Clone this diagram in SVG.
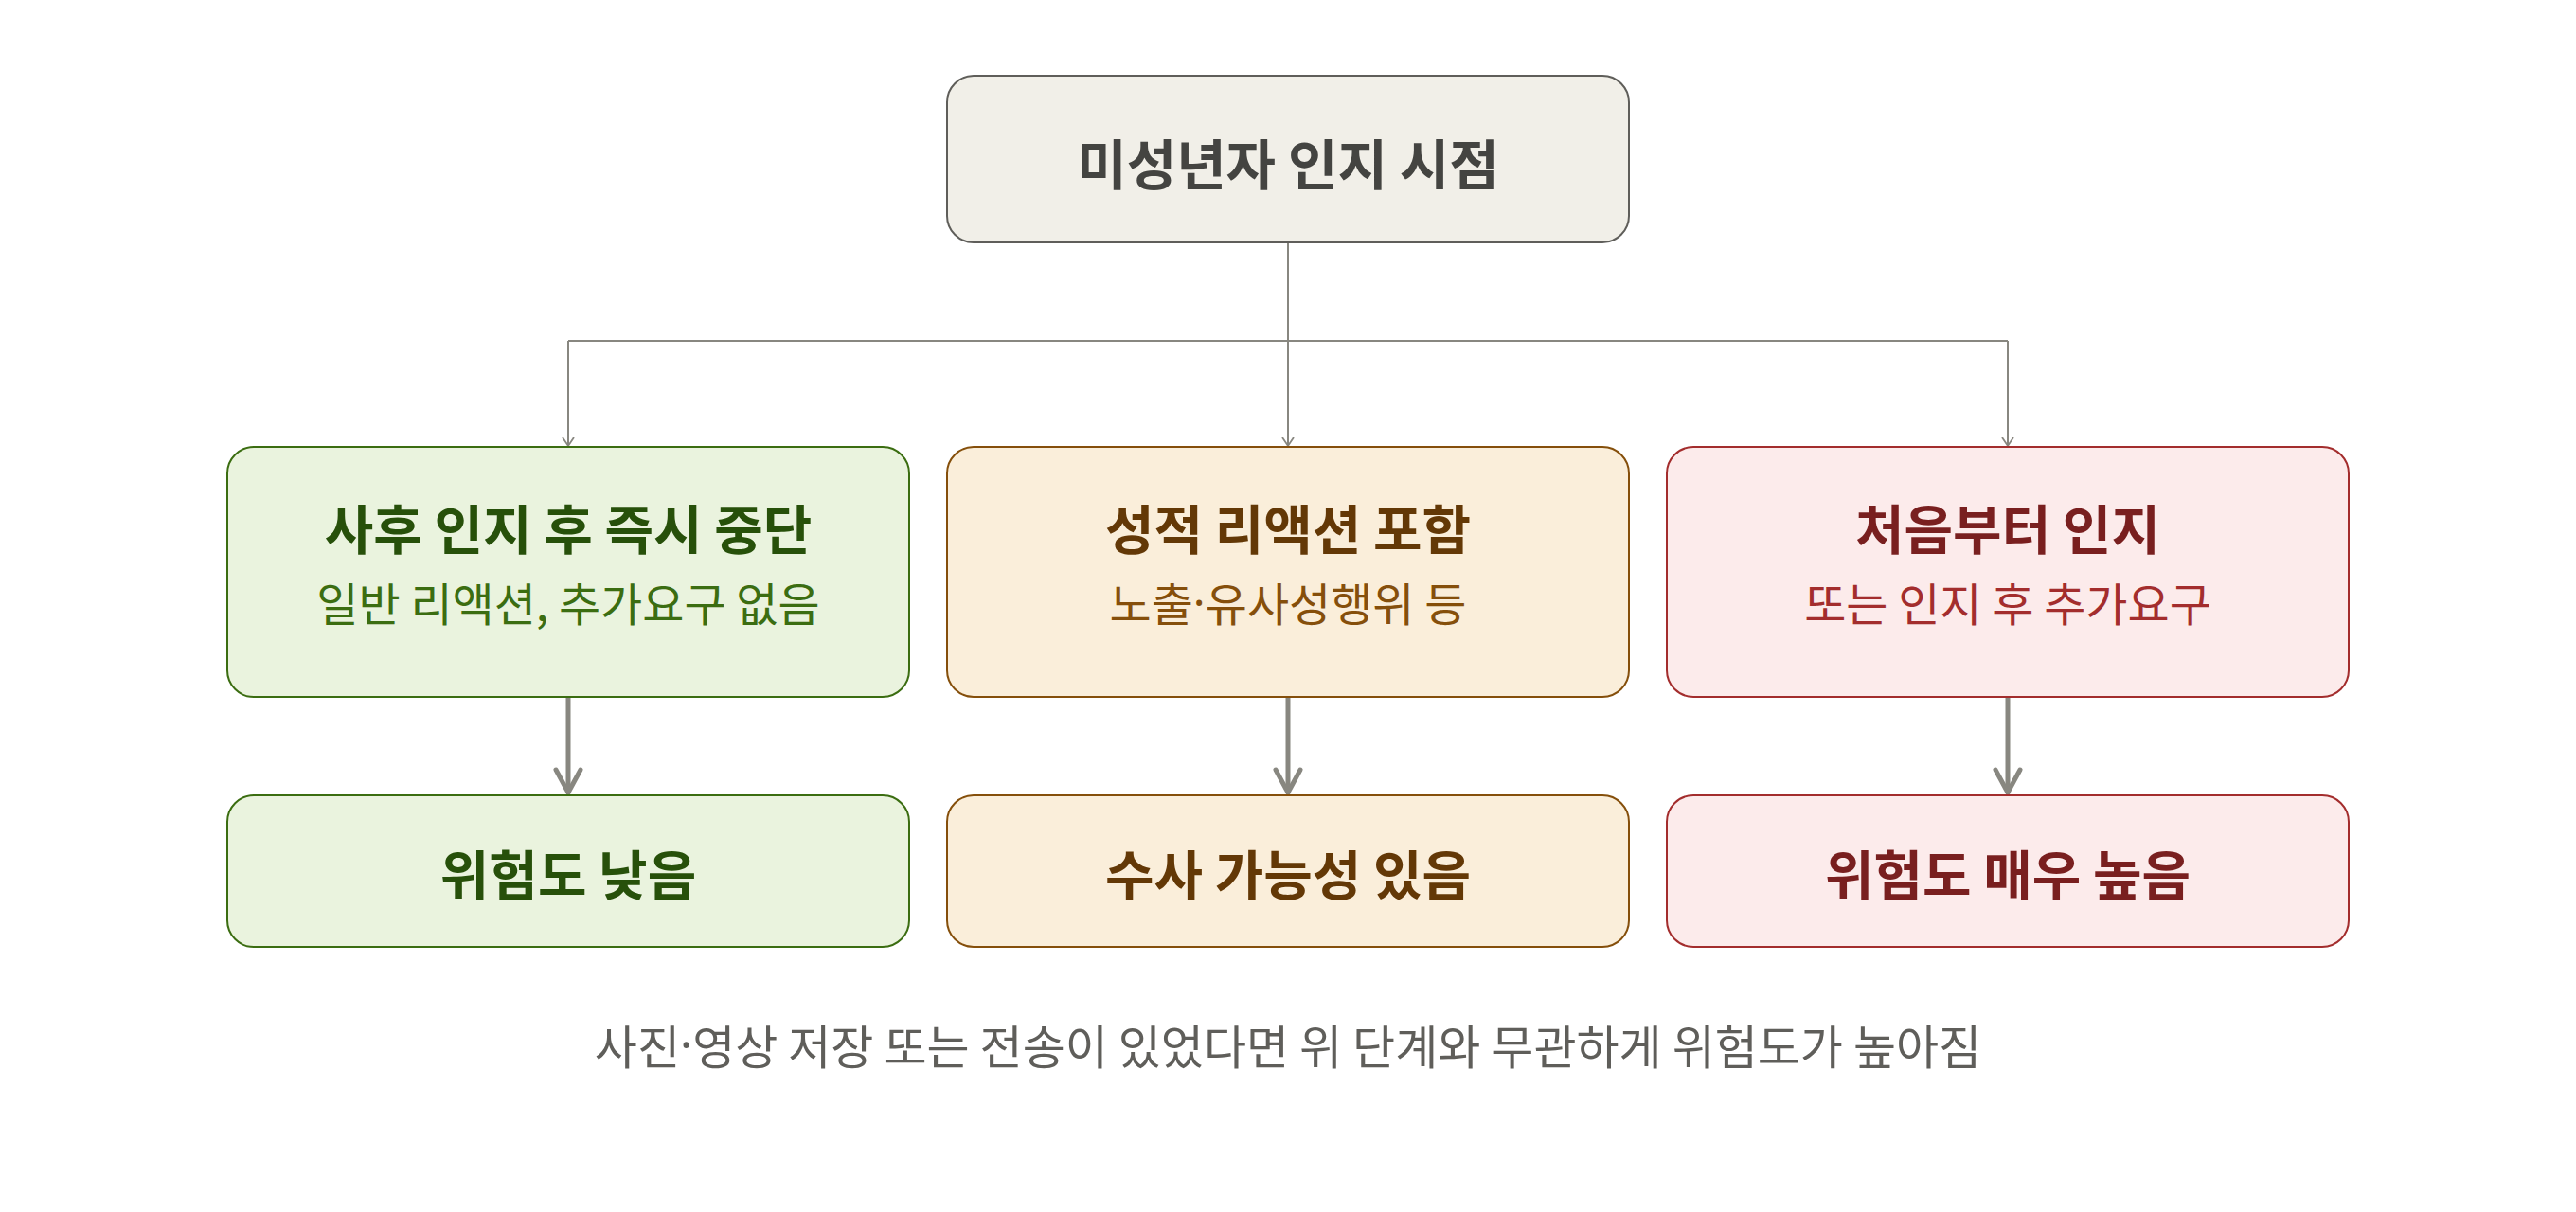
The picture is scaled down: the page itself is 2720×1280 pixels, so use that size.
<svg xmlns="http://www.w3.org/2000/svg" width="2720" height="1280" viewBox="0 0 2720 1280">
<style>
text{font-family:"Noto Sans CJK KR","Noto Sans",sans-serif;text-anchor:middle;dominant-baseline:central}
.t{font-size:56px;font-weight:700}
.s{font-size:48px;font-weight:400}
.dot{font-family:"Noto Sans",sans-serif}
.g rect{fill:#EAF3DE;stroke:#3B6D11;stroke-width:2}
.g .t{fill:#27500A}.g .s{fill:#3B6D11}
.a rect{fill:#FAEEDA;stroke:#854F0B;stroke-width:2}
.a .t{fill:#633806}.a .s{fill:#854F0B}
.r rect{fill:#FCEBEB;stroke:#A32D2D;stroke-width:2}
.r .t{fill:#791F1F}.r .s{fill:#A32D2D}
.thin{fill:none;stroke:#888780;stroke-width:2}
.thick{fill:none;stroke:#888780;stroke-width:5;stroke-linecap:round}
</style>
<defs>
<marker id="sm" markerUnits="userSpaceOnUse" viewBox="-12 -10 14 20" markerWidth="14" markerHeight="20" refX="0" refY="0" orient="auto" overflow="visible">
<path d="M-9,-6 L0,0 L-9,6" fill="none" stroke="#888780" stroke-width="1.8"/>
</marker>
<marker id="lg" markerUnits="userSpaceOnUse" viewBox="-30 -20 34 40" markerWidth="34" markerHeight="40" refX="0" refY="0" orient="auto" overflow="visible">
<path d="M-24,-13 L0,0 L-24,13" fill="none" stroke="#888780" stroke-width="5" stroke-linecap="round" stroke-linejoin="round"/>
</marker>
</defs>
<rect width="2720" height="1280" fill="#ffffff"/>
<g id="connectors">
<path class="thin" d="M1360,256 V360"/>
<path class="thin" d="M600,360 H2120"/>
<path class="thin" d="M600,360 V471" marker-end="url(#sm)"/>
<path class="thin" d="M1360,360 V471" marker-end="url(#sm)"/>
<path class="thin" d="M2120,360 V471" marker-end="url(#sm)"/>
<path class="thick" d="M600,737 V837" marker-end="url(#lg)"/>
<path class="thick" d="M1360,737 V837" marker-end="url(#lg)"/>
<path class="thick" d="M2120,737 V837" marker-end="url(#lg)"/>
</g>
<g id="root">
<rect x="1000" y="80" width="720" height="176" rx="28" fill="#F1EFE8" stroke="#5F5E5A" stroke-width="2"/>
<text x="1360" y="170" style="font-size:57px;font-weight:700;fill:#444441">미성년자 인지 시점</text>
</g>
<g id="n-left" class="g">
<rect x="240" y="472" width="720" height="264" rx="28"/>
<text class="t" x="600" y="555">사후 인지 후 즉시 중단</text>
<text class="s" x="600" y="635">일반 리액션, 추가요구 없음</text>
</g>
<g id="n-mid" class="a">
<rect x="1000" y="472" width="720" height="264" rx="28"/>
<text class="t" x="1360" y="555">성적 리액션 포함</text>
<text class="s" x="1360" y="635">노출<tspan class="dot">·</tspan>유사성행위 등</text>
</g>
<g id="n-right" class="r">
<rect x="1760" y="472" width="720" height="264" rx="28"/>
<text class="t" x="2120" y="555">처음부터 인지</text>
<text class="s" x="2120" y="635">또는 인지 후 추가요구</text>
</g>
<g id="o-left" class="g">
<rect x="240" y="840" width="720" height="160" rx="28"/>
<text class="t" x="600" y="920">위험도 낮음</text>
</g>
<g id="o-mid" class="a">
<rect x="1000" y="840" width="720" height="160" rx="28"/>
<text class="t" x="1360" y="920">수사 가능성 있음</text>
</g>
<g id="o-right" class="r">
<rect x="1760" y="840" width="720" height="160" rx="28"/>
<text class="t" x="2120" y="920">위험도 매우 높음</text>
</g>
<g id="footer">
<text x="1360" y="1102" style="font-size:49px;fill:#5F5E5A">사진<tspan class="dot">·</tspan>영상 저장 또는 전송이 있었다면 위 단계와 무관하게 위험도가 높아짐</text>
</g>
</svg>
